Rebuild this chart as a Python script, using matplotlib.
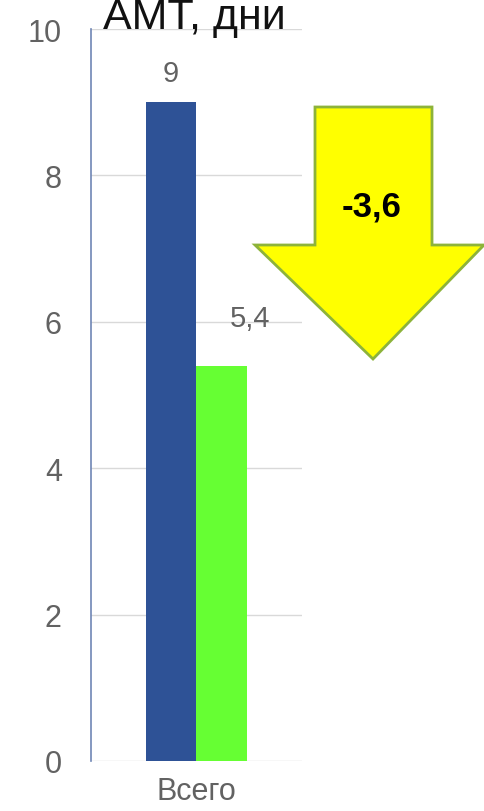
import numpy as np
import matplotlib.pyplot as plt
from matplotlib.patches import Polygon

plt.rcParams['font.family'] = ['Liberation Sans', 'DejaVu Sans']

title = 'АМТ, дни'
categories = ['Всего']
before = [9]
after = [5.4]
yticks = [0, 2, 4, 6, 8, 10]

W, H = 485, 812


def fmt(v):
    return f'{v:g}'.replace('.', ',')


fig = plt.figure(figsize=(W / 100, H / 100), dpi=100)
ax = fig.add_axes([91 / W, 50 / H, 211 / W, 732 / H])

x = np.arange(len(categories))
w = 0.24
ax.bar(x - w / 2, before, width=w, color='#2E5296', zorder=3)
ax.bar(x + w / 2, after, width=w, color='#66FF33', zorder=3)

gray = '#626262'
for xi, v in zip(x, before):
    ax.annotate(fmt(v), (xi - w / 2, v), xytext=(0, 21), textcoords='offset points',
                ha='center', va='center', fontsize=21, color=gray)
for xi, v in zip(x, after):
    ax.annotate(fmt(v), (xi + w / 2, v), xytext=(20, 34), textcoords='offset points',
                ha='center', va='center', fontsize=21, color=gray)

ax.set_xlim(-0.5, 0.5)
ax.set_ylim(0, 10)
ax.set_yticks(yticks)
ax.set_xticks(x)
ax.set_xticklabels(categories)
ax.tick_params(axis='both', length=0, labelsize=22, labelcolor=gray)
ax.tick_params(axis='y', pad=21)
ax.tick_params(axis='x', pad=11)
ax.grid(axis='y', color='#D9D9D9', lw=1, zorder=0)
for s in ['top', 'right', 'bottom']:
    ax.spines[s].set_visible(False)
ax.spines['left'].set_color('#6F86B5')
ax.spines['left'].set_linewidth(1.2)

fig.text(194 / W, 1 - 29 / H, title, ha='center', va='baseline', fontsize=31, color='#111111')

# down arrow showing the change
px = [(315, 108), (432, 108), (432, 246), (484, 246), (373, 360), (255, 246), (315, 246)]
arrow = Polygon([(a / W, 1 - b / H) for a, b in px], closed=True, transform=fig.transFigure,
                facecolor='#FFFF00', edgecolor='#8DB33A', lw=2)
fig.add_artist(arrow)
diff = after[0] - before[0]
fig.text(372 / W, 1 - 207 / H, f'{diff:.1f}'.replace('.', ','), ha='center', va='center',
         fontsize=25, fontweight='bold', color='black')

fig.savefig('out.png', dpi=100)
